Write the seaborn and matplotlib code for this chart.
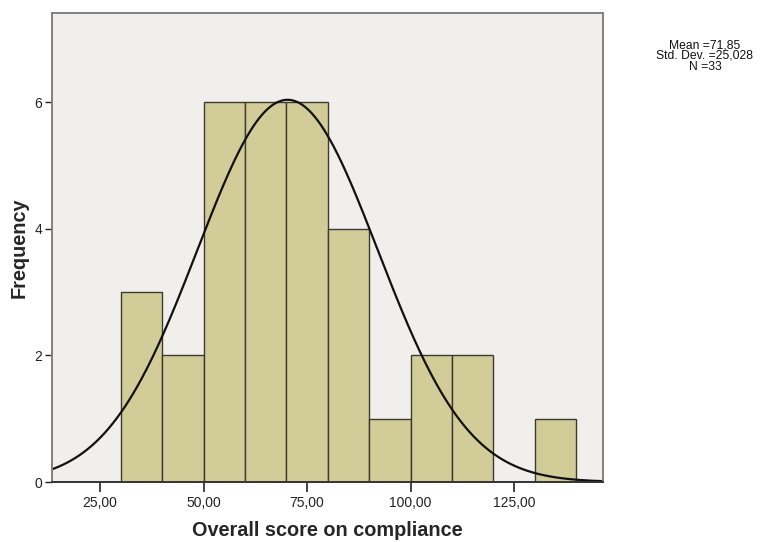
import numpy as np
import pandas as pd
import matplotlib
matplotlib.use("Agg")
import matplotlib.pyplot as plt
import seaborn as sns
from matplotlib.ticker import FuncFormatter

# ---- data ----
bin_edges = [30, 40, 50, 60, 70, 80, 90, 100, 110, 120, 130, 140]
bin_counts = [3, 2, 6, 6, 6, 4, 1, 2, 2, 0, 1]
x_ticks = [25, 50, 75, 100, 125]
y_ticks = [0, 2, 4, 6]
stats_lines = ["Mean =71,85", "Std. Dev. =25,028", "N =33"]
# normal curve as drawn (centre / spread)
curve_mean = 70.3
curve_sd = 21.8
n_total = 33
bin_width = 10

sns.set_theme(style="white")
plt.rcParams["font.family"] = ["Liberation Sans", "DejaVu Sans"]

fig = plt.figure(figsize=(7.6, 5.42), dpi=100)
ax = fig.add_axes([52/760, 1-482/542, (603-52)/760, (482-13)/542])
ax.set_facecolor("#f1efec")

mids = [(a + b) / 2 for a, b in zip(bin_edges[:-1], bin_edges[1:])]
df = pd.DataFrame({"score": mids, "count": bin_counts})
sns.histplot(data=df, x="score", weights="count", bins=bin_edges, ax=ax,
             color="#d2cd98", edgecolor="#3a3a30", linewidth=1.0, alpha=1.0)

xs = np.linspace(13.4, 146.5, 400)
ys = n_total * bin_width / (curve_sd * np.sqrt(2 * np.pi)) * np.exp(-0.5 * ((xs - curve_mean) / curve_sd) ** 2)
sns.lineplot(x=xs, y=ys, ax=ax, color="#111111", linewidth=1.6)

ax.set_xlim(13.4, 146.5)
ax.set_ylim(0, 7.41)
ax.set_xticks(x_ticks)
ax.set_yticks(y_ticks)
ax.xaxis.set_major_formatter(FuncFormatter(lambda v, p: f"{v:.2f}".replace(".", ",")))
ax.tick_params(axis="x", direction="out", length=7, width=1.2, color="#222222",
               labelsize=10, labelcolor="#222222", pad=3, bottom=True)
ax.tick_params(axis="y", direction="out", length=5, width=1.0, color="#222222",
               labelsize=10, labelcolor="#222222", pad=2, left=True)
for s in ax.spines.values():
    s.set_color("#808080")
    s.set_linewidth(1.4)
ax.spines["bottom"].set_color("#333333")

ax.set_xlabel("Overall score on compliance", fontsize=14.3, fontweight="bold", labelpad=8)
ax.set_ylabel("Frequency", fontsize=14.3, fontweight="bold", labelpad=0)
ax.yaxis.set_label_coords((29 - 52) / (603 - 52), 0.5)

fig.text(705/760, 1-56/542, "\n".join(stats_lines), ha="center", va="center",
         fontsize=8.7, linespacing=0.85, color="#111111")

fig.savefig("out.png", dpi=100, facecolor="white")
